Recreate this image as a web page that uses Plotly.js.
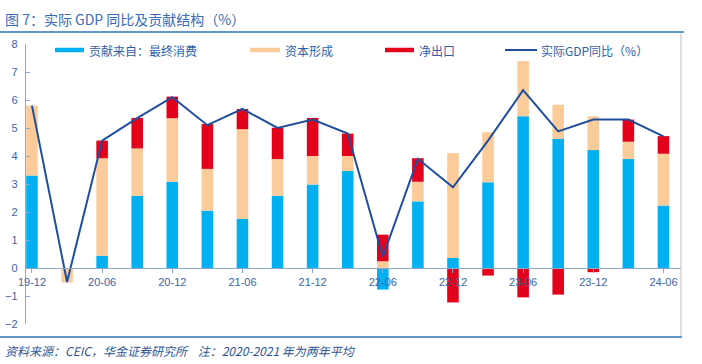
<!DOCTYPE html>
<html><head><meta charset="utf-8">
<script src="https://cdn.plot.ly/plotly-3.0.1.min.js"></script>
<style>html,body{margin:0;padding:0;background:#fff}</style>
</head><body><div id="chart" style="width:702px;height:364px"></div>
<script>
const categories = ['19-12','20-03','20-06','20-09','20-12','21-03','21-06','21-09','21-12','22-03','22-06','22-09','22-12','23-03','23-06','23-09','23-12','24-03','24-06'];
const consumption = [3.30, 0.00, 0.44, 2.58, 3.08, 2.05, 1.75, 2.58, 2.98, 3.46, -0.77, 2.38, 0.36, 3.06, 5.42, 4.61, 4.21, 3.89, 2.23];
const capital     = [2.50, -0.52, 3.48, 1.69, 2.27, 1.49, 3.21, 1.31, 1.02, 0.54, 0.24, 0.70, 3.75, 1.79, 1.97, 1.22, 1.21, 0.62, 1.85];
const netExport   = [0.00, 0.00, 0.63, 1.09, 0.77, 1.60, 0.72, 1.12, 1.36, 0.80, 0.95, 0.84, -1.23, -0.27, -1.05, -0.95, -0.15, 0.79, 0.63];
const gdp         = [5.80, -0.50, 4.55, 5.35, 6.10, 5.10, 5.68, 5.00, 5.30, 4.80, 0.40, 3.90, 2.88, 4.55, 6.35, 4.88, 5.30, 5.30, 4.70];
const tickLabels  = ['19-12','20-06','20-12','21-06','21-12','22-06','22-12','23-06','23-12','24-06'];
const seriesNames = ['贡献来自：最终消费','资本形成','净出口','实际GDP同比（%）'];

const C_BLUE='#00B0F0', C_ORANGE='#FCCB9A', C_RED='#E2001A', C_LINE='#1F4E9C';
const W=702,H=364, L=26, R=21, T=44, B=40;
const PW=W-L-R, PH=H-T-B;
const px = x => (x-L)/PW;
const py = y => (H-B-y)/PH;
const CJK = '"Noto Sans CJK SC", "Noto Sans", sans-serif';
const TXT = '#2F5FA8';

const traces = [
  {type:'bar', name:seriesNames[0], x:categories, y:consumption, marker:{color:C_BLUE}, showlegend:false},
  {type:'bar', name:seriesNames[1], x:categories, y:capital, marker:{color:C_ORANGE}, showlegend:false},
  {type:'bar', name:seriesNames[2], x:categories, y:netExport, marker:{color:C_RED}, showlegend:false},
  {type:'scatter', mode:'lines', name:seriesNames[3], x:categories, y:gdp, line:{color:C_LINE, width:2}, showlegend:false}
];

const legendItems = [
  {x0:55, x1:84, color:C_BLUE, w:4.5, text:seriesNames[0], tx:87},
  {x0:250, x1:280, color:C_ORANGE, w:4.5, text:seriesNames[1], tx:283},
  {x0:385, x1:414, color:C_RED, w:4.5, text:seriesNames[2], tx:417},
  {x0:505, x1:537, color:C_LINE, w:2, text:seriesNames[3], tx:539}
];
const shapes = [];
const annotations = [];
legendItems.forEach(it=>{
  shapes.push({type:'line', xref:'paper', yref:'paper', x0:px(it.x0), x1:px(it.x1), y0:py(50), y1:py(50), line:{color:it.color, width:it.w}});
  annotations.push({xref:'paper', yref:'paper', x:px(it.tx), y:py(50), xanchor:'left', yanchor:'middle', text:it.text, showarrow:false, font:{family:CJK, size:12, color:TXT}});
});
// frame lines
shapes.push({type:'line', xref:'paper', yref:'paper', x0:px(0), x1:px(684), y0:py(32), y1:py(32), line:{color:'#2E75B6', width:1.5}});
shapes.push({type:'line', xref:'paper', yref:'paper', x0:px(0), x1:px(682), y0:py(337), y1:py(337), line:{color:'#2E75B6', width:1.5}});
shapes.push({type:'line', xref:'paper', yref:'paper', x0:px(681), x1:px(681), y0:py(33), y1:py(336), line:{color:'#BFBFBF', width:1}});

annotations.push({xref:'paper', yref:'paper', x:px(3), y:py(19), xanchor:'left', yanchor:'middle', showarrow:false,
  text:'图 7：实际 GDP 同比及贡献结构（%）', font:{family:CJK, size:14, color:'#3A6CB8'}});
annotations.push({xref:'paper', yref:'paper', x:px(3), y:py(350), xanchor:'left', yanchor:'middle', showarrow:false,
  text:'<i>资料来源：CEIC，华金证券研究所    注：2020-2021 年为两年平均</i>', font:{family:CJK, size:12, color:'#2F5597'}});

const layout = {
  width:W, height:H, margin:{l:L, r:R, t:T, b:B, pad:0},
  paper_bgcolor:'#fff', plot_bgcolor:'#fff',
  barmode:'relative', bargap:0.67,
  showlegend:false,
  xaxis:{type:'category', range:[-0.17, 18.5], anchor:'free', position:0.2,
    showline:true, linecolor:'#8EA9CF', linewidth:1.2, showgrid:false, zeroline:false,
    tickmode:'array', tickvals:tickLabels, ticktext:tickLabels,
    ticks:'outside', ticklen:4, tickcolor:'#8EA9CF',
    tickfont:{family:'"Liberation Sans", Arial, sans-serif', size:11, color:'#3B64A8'}},
  yaxis:{range:[-2,8], dtick:1, showline:true, linecolor:'#8EA9CF', linewidth:1.2,
    showgrid:false, zeroline:false, ticks:'inside', ticklen:4, tickcolor:'#8EA9CF',
    ticklabelstandoff:5,
    tickfont:{family:'"Liberation Sans", Arial, sans-serif', size:11, color:'#3B64A8'}},
  shapes:shapes, annotations:annotations
};
Plotly.newPlot('chart', traces, layout, {displayModeBar:false, staticPlot:true});
</script></body></html>
